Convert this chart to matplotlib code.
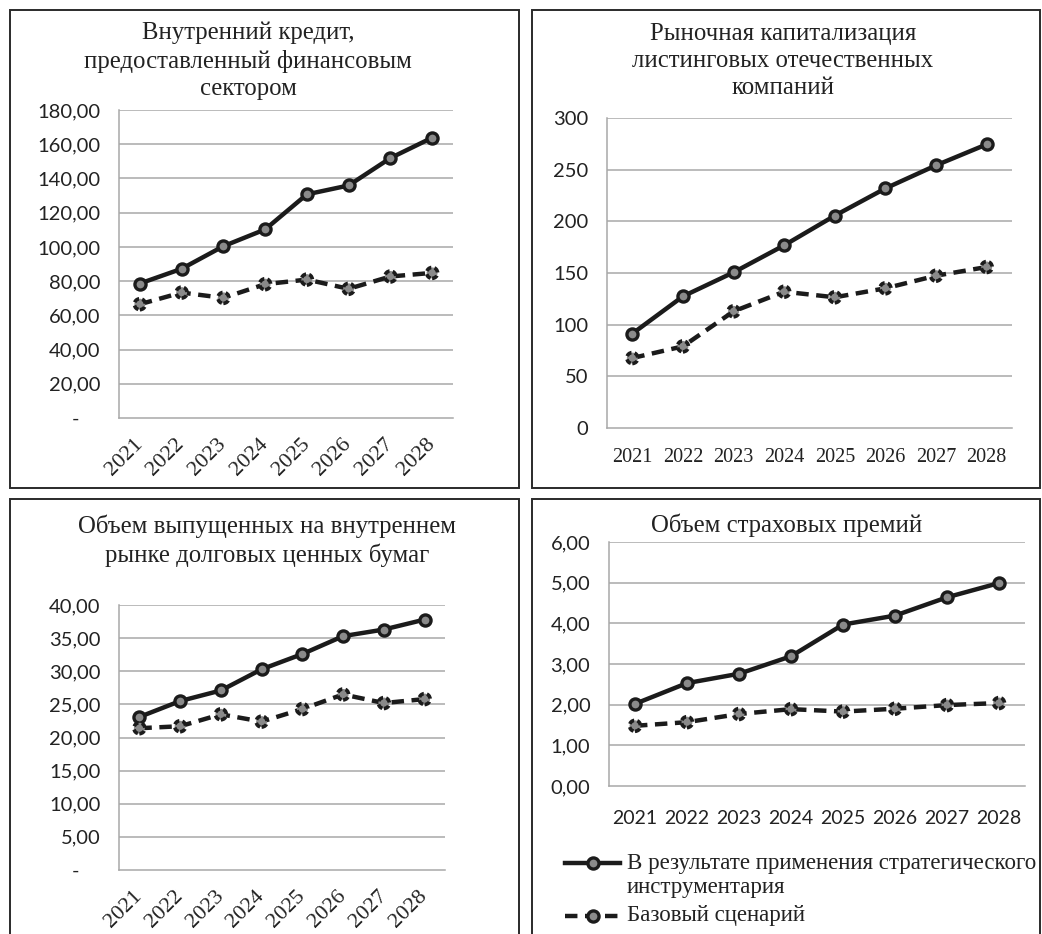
import numpy as np
import matplotlib
matplotlib.use("Agg")
from matplotlib import pyplot as plt
from matplotlib.patches import Rectangle
from matplotlib.lines import Line2D
from matplotlib.ticker import FixedLocator, FixedFormatter

# годы прогноза
years = ["2021", "2022", "2023", "2024", "2025", "2026", "2027", "2028"]

# Внутренний кредит, предоставленный финансовым сектором
credit_strat = [78.6, 87.2, 100.4, 110.2, 130.7, 135.9, 151.9, 163.8]
credit_base = [66.5, 73.3, 70.2, 78.2, 80.9, 75.5, 82.7, 84.8]
credit_ticks = [0, 20, 40, 60, 80, 100, 120, 140, 160, 180]

# Рыночная капитализация листинговых компаний
cap_strat = [91.3, 127.4, 150.6, 176.8, 205.5, 231.9, 254.2, 274.5]
cap_base = [67.7, 79.0, 112.9, 131.9, 126.5, 135.2, 147.4, 155.8]
cap_ticks = [0, 50, 100, 150, 200, 250, 300]

# Объем долговых ценных бумаг
bonds_strat = [23.1, 25.5, 27.1, 30.3, 32.6, 35.3, 36.3, 37.8]
bonds_base = [21.4, 21.7, 23.5, 22.4, 24.3, 26.5, 25.2, 25.8]
bonds_ticks = [0, 5, 10, 15, 20, 25, 30, 35, 40]

# Объем страховых премий
ins_strat = [2.02, 2.53, 2.76, 3.19, 3.97, 4.19, 4.64, 4.99]
ins_base = [1.48, 1.57, 1.77, 1.89, 1.83, 1.90, 1.99, 2.04]
ins_ticks = [0, 1, 2, 3, 4, 5, 6]

legend_labels = ["В результате применения стратегического\nинструментария",
                 "Базовый сценарий"]

W, H = 1042, 934
SERIF = "Liberation Serif"
SANS = "Lato"
INK = "#1b1b1b"
GRID = "#a8a8a8"
DOT = "#8a8a8a"

fig = plt.figure(figsize=(W / 100, H / 100), dpi=100)
fig.patch.set_facecolor("white")


def px_box(l, t, r, b):
    return [l / W, 1 - b / H, (r - l) / W, (b - t) / H]


def fx(x):
    return x / W


def fy(y):
    return 1 - y / H


def frame(l, t, r, b):
    fig.add_artist(Rectangle((fx(l), fy(b)), (r - l) / W, (b - t) / H,
                             transform=fig.transFigure, fill=False,
                             edgecolor="#2a2a2a", lw=1.4))


def draw_panel(rect, strat, base, ticks, labels, ymax, rotate, xfont):
    ax = fig.add_axes(px_box(*rect))
    x = np.arange(len(years))
    ax.plot(x, strat, color=INK, lw=3.2, marker="o", ms=8,
            mfc=DOT, mec=INK, mew=2.4, zorder=3)
    ax.plot(x, base, color=INK, lw=3.2, dashes=(2.8, 1.7), zorder=3)
    ax.scatter(x, base, s=62, facecolor=DOT, edgecolor=INK,
               linewidths=2.6, linestyles=(0, (1.6, 0.9)), zorder=4)
    ax.set_xlim(-0.5, len(years) - 0.5)
    ax.set_ylim(0, ymax)
    ax.yaxis.set_major_locator(FixedLocator(ticks))
    ax.yaxis.set_major_formatter(FixedFormatter(labels))
    ax.set_xticks(x)
    for v in ticks[1:]:
        ax.axhline(v, color=GRID, lw=1.1, zorder=1)
    for s in ["top", "right"]:
        ax.spines[s].set_visible(False)
    for s in ["left", "bottom"]:
        ax.spines[s].set_color(GRID)
        ax.spines[s].set_linewidth(1.1)
    ax.tick_params(length=0)
    ax.tick_params(axis="y", pad=13.5)
    for t in ax.get_yticklabels():
        t.set_fontfamily(SANS)
        t.set_fontsize(14.5)
        t.set_color("#222222")
    if rotate:
        ax.set_xticklabels(years, rotation=45, ha="right", va="center",
                           rotation_mode="anchor")
        ax.tick_params(axis="x", pad=17)
        xsize = 16
    else:
        ax.set_xticklabels(years)
        ax.tick_params(axis="x", pad=14.5 if xfont == SERIF else 17)
        xsize = 14.5 if xfont == SERIF else 14
    for t in ax.get_xticklabels():
        t.set_fontfamily(xfont)
        t.set_fontsize(xsize)
        t.set_color("#222222")
    return ax


def comma(vals, dash=False):
    out = []
    for v in vals:
        if dash and v == 0:
            out.append("-    ")
        else:
            out.append(f"{v:.2f}".replace(".", ","))
    return out


# рамки панелей
frame(10, 10, 519, 488)
frame(532, 10, 1040, 488)
frame(10, 499, 519, 940)
frame(532, 499, 1040, 940)

draw_panel((119, 110, 453, 418), credit_strat, credit_base, credit_ticks,
           comma(credit_ticks, dash=True), 180, True, SERIF)
draw_panel((607, 118, 1012, 428), cap_strat, cap_base, cap_ticks,
           [str(v) for v in cap_ticks], 300, False, SERIF)
draw_panel((119, 605, 445, 870), bonds_strat, bonds_base, bonds_ticks,
           comma(bonds_ticks, dash=True), 40, True, SERIF)
draw_panel((609, 542, 1025, 786), ins_strat, ins_base, ins_ticks,
           comma(ins_ticks), 6, False, SANS)

title_kw = dict(family=SERIF, fontsize=17.8, color="#222222",
                ha="center", va="center", linespacing=1.31)
fig.text(fx(248), fy(61), "Внутренний кредит,\nпредоставленный финансовым\nсектором",
         **title_kw)
fig.text(fx(783), fy(61), "Рыночная капитализация\nлистинговых отечественных\nкомпаний",
         **title_kw)
fig.text(fx(267), fy(541), "Объем выпущенных на внутреннем\nрынке долговых ценных бумаг",
         **title_kw)
fig.text(fx(787), fy(525), "Объем страховых премий", **title_kw)

# легенда
fig.add_artist(Line2D([fx(565), fx(620)], [fy(863), fy(863)],
                      transform=fig.transFigure, color=INK, lw=3.2))
fig.add_artist(Line2D([fx(593)], [fy(863)], transform=fig.transFigure,
                      color="none", marker="o", ms=8, mfc=DOT,
                      mec=INK, mew=2.4))
fig.add_artist(Line2D([fx(565), fx(620)], [fy(916), fy(916)],
                      transform=fig.transFigure, color=INK, lw=3.2,
                      dashes=(2.8, 1.7)))
fig.add_artist(Line2D([fx(593)], [fy(916)], transform=fig.transFigure,
                      color="none", marker="o", ms=8, mfc=DOT,
                      mec=INK, mew=2.4))
leg_kw = dict(family=SERIF, fontsize=16.5, color="#222222", ha="left",
              va="center", linespacing=1.25)
fig.text(fx(627), fy(875.5), legend_labels[0], **leg_kw)
fig.text(fx(627), fy(916), legend_labels[1], **leg_kw)

plt.savefig("out.png", dpi=100, facecolor="white")
